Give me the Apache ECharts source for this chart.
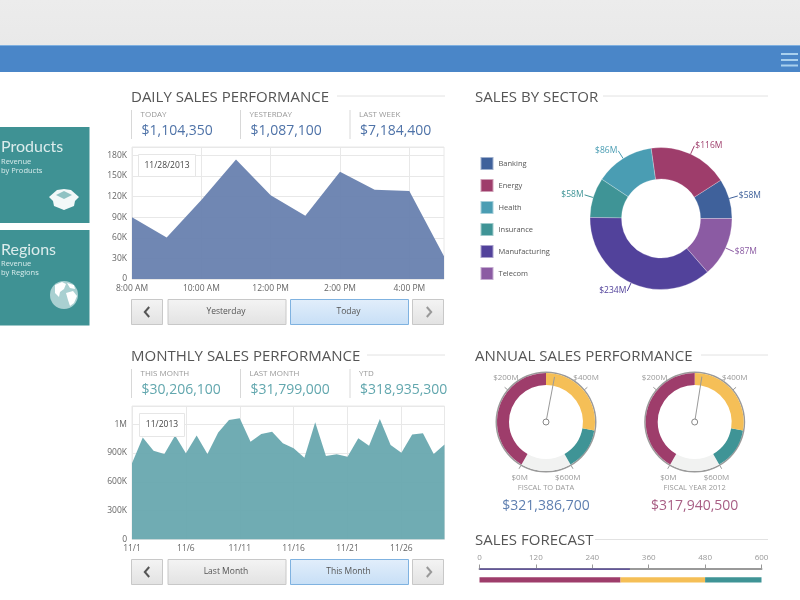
<!DOCTYPE html>
<html lang="en">
<head>
<meta charset="UTF-8">
<title>Sales Dashboard</title>
<script src="https://cdn.jsdelivr.net/npm/echarts@6/dist/echarts.min.js"></script>
<style>
html, body { margin: 0; padding: 0; background: #fff; }
#main { width: 800px; height: 600px; }
</style>
</head>
<body>
<div id="main"></div>
<script>
// daily chart
var dailyHours = ['8:00 AM', '9:00 AM', '10:00 AM', '11:00 AM', '12:00 PM', '1:00 PM', '2:00 PM', '3:00 PM', '4:00 PM', '5:00 PM'];
var dailySales = [90000, 60500, 115000, 174000, 122000, 92000, 156000, 130000, 128000, 33000];
var dailyKpiNames = ['TODAY', 'YESTERDAY', 'LAST WEEK'];
var dailyKpiValues = ['$1,104,350', '$1,087,100', '$7,184,400'];

// monthly chart
var monthDays = ['11/1', '11/2', '11/3', '11/4', '11/5', '11/6', '11/7', '11/8', '11/9', '11/10',
  '11/11', '11/12', '11/13', '11/14', '11/15', '11/16', '11/17', '11/18', '11/19', '11/20',
  '11/21', '11/22', '11/23', '11/24', '11/25', '11/26', '11/27', '11/28', '11/29', '11/30'];
var monthlySales = [793000, 1061000, 925000, 890000, 1082000, 897000, 1082000, 890000, 1113000, 1245000,
  1262000, 1019000, 1099000, 1123000, 1002000, 949000, 852000, 1221000, 870000, 887000,
  862000, 1054000, 977000, 1255000, 984000, 904000, 1092000, 1106000, 890000, 988000];
var monthlyTicks = { 0: '0', 300000: '300K', 600000: '600K', 900000: '900K', 1200000: '1M' };
var monthlyKpiNames = ['THIS MONTH', 'LAST MONTH', 'YTD'];
var monthlyKpiValues = ['$30,206,100', '$31,799,000', '$318,935,300'];

// sectors
var sectorNames = ['Banking', 'Energy', 'Health', 'Insurance', 'Manufacturing', 'Telecom'];
var sectorValues = [58, 116, 86, 58, 234, 87];
var sectorColors = ['#3f619b', '#9e3d6b', '#4a9db3', '#3f9496', '#52429b', '#8b5ba3'];

// annual gauges
var gaugeNames = ['FISCAL TO DATA', 'FISCAL YEAR 2012'];
var gaugeValues = [321386700, 317940500];
var gaugeTextColors = ['#5f7fb0', '#a85f85'];

// forecast
var forecastActual = [320, null];
var forecastBands = [[null, 300], [null, 180], [null, 120]];
var forecastBandColors = ['#9e3d6b', '#f5bf57', '#3f9496'];

var FONT = '"Open Sans", sans-serif';
var graphics = [];

function rect(x, y, w, h, fill, stroke) {
  graphics.push({ type: 'rect', z: 10, shape: { x: x, y: y, width: w, height: h },
    style: { fill: fill, stroke: stroke || null, lineWidth: stroke ? 1 : 0 } });
}
function label(x, y, str, size, color, align, family) {
  graphics.push({ type: 'text', z: 11, style: { x: x, y: y, text: str, fill: color, align: align || 'left',
    verticalAlign: 'middle', font: size + 'px ' + (family || FONT) } });
}
function line(x1, y1, x2, y2, color, width) {
  graphics.push({ type: 'line', z: 10, shape: { x1: x1, y1: y1, x2: x2, y2: y2 },
    style: { stroke: color, lineWidth: width || 1 } });
}
function poly(points, fill) {
  graphics.push({ type: 'polygon', z: 11, shape: { points: points }, style: { fill: fill } });
}
function vgrad(a, b) {
  return new echarts.graphic.LinearGradient(0, 0, 0, 1, [{ offset: 0, color: a }, { offset: 1, color: b }]);
}
function heading(x, y, str, lineFrom, lineTo) {
  label(x, y + 1, str, 15, '#555');
  line(lineFrom, y - 0.5, lineTo, y - 0.5, '#e2e2e2');
}
function kpis(y, names, values, color) {
  var xs = [131.5, 240.5, 350];
  for (var i = 0; i < 3; i++) {
    line(xs[i], y - 5, xs[i], y + 24, '#d8d8d8');
    label(xs[i] + 9, y, names[i], 8, '#999');
    label(xs[i] + 10, y + 16, values[i], 14, color);
  }
}
function chevron(cx, cy, dir, color) {
  graphics.push({ type: 'polyline', z: 11,
    shape: { points: [[cx + dir * 2.2, cy - 5], [cx - dir * 2.2, cy], [cx + dir * 2.2, cy + 5]] },
    style: { stroke: color, fill: null, lineWidth: 2 } });
}
function buttons(y, left, right) {
  var h = 25;
  rect(131.5, y + 0.5, 31, h, vgrad('#f4f4f4', '#e2e2e2'), '#c8c8c8');
  rect(168, y + 0.5, 118, h, vgrad('#f4f4f4', '#e2e2e2'), '#c8c8c8');
  rect(290.5, y + 0.5, 118, h, vgrad('#e2eefb', '#c7dff6'), '#7fb2e0');
  rect(412.5, y + 0.5, 31, h, vgrad('#f4f4f4', '#e2e2e2'), '#c8c8c8');
  label(226, y + 13, left, 8.5, '#555', 'center');
  label(348.5, y + 13, right, 8.5, '#555', 'center');
  chevron(147, y + 13, 1, '#555');
  chevron(429, y + 13, -1, '#999');
}
function dateBox(x, y, w, h, str) {
  rect(x, y, w, h, '#fff', '#e6e6e6');
  label(x + w / 2, y + h / 2, str, 8.5, '#444', 'center');
}

// header
rect(0, 0, 800, 45, vgrad('#ececec', '#e9e9e9'));
rect(0, 45, 800, 27, '#4a86c8');
line(0, 45.5, 800, 45.5, '#7fb0e0', 1);
line(781, 54, 798, 54, '#a9d0ee', 2);
line(781, 60, 798, 60, '#a9d0ee', 2);
line(781, 65.5, 798, 65.5, '#a9d0ee', 2);

// left tiles
rect(0, 127, 89.5, 96, '#3f9294');
rect(0, 230, 89.5, 95.5, '#3f9294');
label(1, 147, 'Products', 16, '#dcecec', 'left', 'Lato');
label(1, 162, 'Revenue', 7.5, '#d8ecec');
label(1, 171, 'by Products', 7.5, '#d8ecec');
label(1, 249.5, 'Regions', 16, '#dcecec', 'left', 'Lato');
label(1, 264, 'Revenue', 7.5, '#d8ecec');
label(1, 273, 'by Regions', 7.5, '#d8ecec');
// box icon
poly([[49, 197], [57, 190], [64, 189], [71, 190], [79, 197], [75, 201], [74, 206], [64, 210], [54, 206], [53, 201]], '#f2f8f8');
poly([[56, 195], [64, 191], [72, 195], [64, 199]], '#8fc2c3');
line(64, 199, 64, 210, '#a5cfd0', 1);
// globe icon
graphics.push({ type: 'circle', z: 11, shape: { cx: 64, cy: 295, r: 14 }, style: { fill: '#a9d0d1' } });
poly([[55, 285], [62, 282], [66, 284], [64, 289], [60, 292], [59, 297], [55, 293]], '#fff');
poly([[66, 293], [73, 291], [77, 296], [74, 303], [70, 306], [68, 300]], '#fff');
poly([[67, 283], [74, 285], [75, 289], [70, 288]], '#fff');

// headings and kpi rows
heading(131, 96.5, 'DAILY SALES PERFORMANCE', 337, 445);
heading(475, 96.5, 'SALES BY SECTOR', 603, 768);
heading(131, 355.5, 'MONTHLY SALES PERFORMANCE', 367, 445);
heading(475, 355.5, 'ANNUAL SALES PERFORMANCE', 701, 768);
heading(475, 540, 'SALES FORECAST', 595, 768);
kpis(115, dailyKpiNames, dailyKpiValues, '#4f73a8');
kpis(374, monthlyKpiNames, monthlyKpiValues, '#62a7ae');
buttons(299, 'Yesterday', 'Today');
buttons(559, 'Last Month', 'This Month');
dateBox(138.5, 154.5, 57, 22, '11/28/2013');
dateBox(139.5, 413.5, 45, 23, '11/2013');

var axisText = { fontSize: 8.5, color: '#666', fontFamily: FONT, margin: 5 };
var gridLine = { show: true, lineStyle: { color: '#e8e8e8', width: 1 } };

function areaSeries(xIndex, data, color) {
  return { type: 'line', xAxisIndex: xIndex, yAxisIndex: xIndex, data: data, showSymbol: false,
    lineStyle: { width: 0 }, areaStyle: { color: color, opacity: 0.96 }, z: 3 };
}
function gaugeSeries(i) {
  var c = [546 + i * 148.7, 422];
  var off = { show: false };
  return [
    { type: 'gauge', center: c, radius: 50.5, startAngle: 90, endAngle: -270, silent: true,
      axisLine: { lineStyle: { width: 1.5, color: [[1, '#9a9a9a']] } }, progress: off, pointer: off,
      axisTick: off, splitLine: off, axisLabel: off, detail: off, title: off, data: [{ value: 0 }] },
    { type: 'gauge', center: c, radius: 49, startAngle: -60, endAngle: -120, silent: true,
      axisLine: { lineStyle: { width: 12, color: [[1, '#f1f2f1']] } }, progress: off, pointer: off,
      axisTick: off, splitLine: off, axisLabel: off, detail: off, title: off, data: [{ value: 0 }] },
    { type: 'gauge', center: c, radius: 49, startAngle: 240, endAngle: -60, min: 0, max: 600000000, splitNumber: 3,
      axisLine: { lineStyle: { width: 12, color: [[0.5, '#9e3d6b'], [0.833, '#f5bf57'], [1, '#3f9496']] } },
      axisTick: off,
      splitLine: { distance: -17, length: 4, lineStyle: { color: '#999', width: 1 } },
      axisLabel: { distance: -7, fontSize: 8, color: '#999', fontFamily: FONT,
        formatter: function (v) { return '$' + Math.round(v / 1000000) + 'M'; } },
      pointer: { icon: 'rect', length: 46, width: 1, itemStyle: { color: '#999' } },
      anchor: { show: true, showAbove: true, size: 6, itemStyle: { color: '#fff', borderColor: '#888', borderWidth: 1 } },
      title: { offsetCenter: [0, 66], fontSize: 7.5, color: '#999', fontFamily: FONT },
      detail: { offsetCenter: [0, 84], fontSize: 14, fontWeight: 'normal', color: gaugeTextColors[i], fontFamily: FONT, valueAnimation: false,
        formatter: function (v) { return '$' + v.toLocaleString('en-US'); } },
      data: [{ name: gaugeNames[i], value: gaugeValues[i] }] }
  ];
}

var series = [
  areaSeries(0, dailySales, '#6a82b0'),
  areaSeries(1, monthlySales, '#6aa9b0'),
  { type: 'pie', center: [661, 218.5], radius: [39.5, 71], startAngle: 0, clockwise: false,
    itemStyle: { borderColor: 'rgba(255,255,255,0.5)', borderWidth: 0.5 },
    label: { fontSize: 8.5, fontFamily: FONT, distanceToLabelLine: 1, formatter: function (p) { return '$' + p.value + 'M'; } },
    labelLine: { length: 9, length2: 0, lineStyle: { width: 1 } },
    data: sectorNames.map(function (n, i) {
      return { name: n, value: sectorValues[i], itemStyle: { color: sectorColors[i] }, label: { color: sectorColors[i] } };
    }) },
  { type: 'bar', xAxisIndex: 2, yAxisIndex: 2, data: forecastActual, barWidth: 3, stack: 'actual',
    itemStyle: { color: '#52429b' } }
];
forecastBands.forEach(function (band, i) {
  series.push({ type: 'bar', xAxisIndex: 2, yAxisIndex: 2, data: band, barWidth: 7, stack: 'bands',
    itemStyle: { color: forecastBandColors[i] } });
});
series = series.concat(gaugeSeries(0), gaugeSeries(1));

var myChart = echarts.init(document.getElementById('main'));
myChart.setOption({
  animation: false,
  backgroundColor: '#fff',
  textStyle: { fontFamily: FONT },
  legend: {
    data: sectorNames, orient: 'vertical', left: 474.5, top: 151, itemWidth: 13, itemHeight: 13, itemGap: 7,
    icon: 'rect', selectedMode: false, textStyle: { fontSize: 7.5, color: '#555', fontFamily: FONT }
  },
  grid: [
    { left: 132, top: 147, width: 312, height: 132, show: true, borderColor: '#e8e8e8', borderWidth: 1, backgroundColor: '#fff' },
    { left: 132, top: 406, width: 312.5, height: 133.5, show: true, borderColor: '#e8e8e8', borderWidth: 1, backgroundColor: '#fff' },
    { left: 479.5, top: 568.5, width: 282, height: 14 }
  ],
  xAxis: [
    { gridIndex: 0, type: 'category', boundaryGap: false, data: dailyHours,
      axisLine: { show: false }, axisTick: { show: false }, splitLine: Object.assign({ interval: 1 }, gridLine),
      axisLabel: Object.assign({ interval: 1 }, axisText) },
    { gridIndex: 1, type: 'category', boundaryGap: false, data: monthDays,
      axisLine: { show: false }, axisTick: { show: false }, splitLine: Object.assign({ interval: 4 }, gridLine),
      axisLabel: Object.assign({ interval: 4 }, axisText) },
    { gridIndex: 2, type: 'value', position: 'top', min: 0, max: 600, interval: 120,
      axisLine: { show: true, lineStyle: { color: '#999', width: 2 } },
      axisTick: { show: true, length: 4, lineStyle: { color: '#999', width: 1 } },
      splitLine: { show: false },
      axisLabel: { fontSize: 8, color: '#999', fontFamily: FONT, margin: 7 } }
  ],
  yAxis: [
    { gridIndex: 0, type: 'value', min: 0, max: 192000, interval: 30000,
      axisLine: { show: false }, axisTick: { show: false }, splitLine: gridLine,
      axisLabel: Object.assign({}, axisText, { showMaxLabel: false,
        formatter: function (v) { return v === 0 ? '0' : (v / 1000) + 'K'; } }) },
    { gridIndex: 1, type: 'value', min: 0, max: 1390000, interval: 300000,
      axisLine: { show: false }, axisTick: { show: false }, splitLine: gridLine,
      axisLabel: Object.assign({}, axisText, { showMaxLabel: false,
        formatter: function (v) { return monthlyTicks[v] || ''; } }) },
    { gridIndex: 2, type: 'category', inverse: true, data: ['Forecast', 'Actual'], show: false }
  ],
  series: series,
  graphic: { elements: graphics }
});
</script>
</body>
</html>
